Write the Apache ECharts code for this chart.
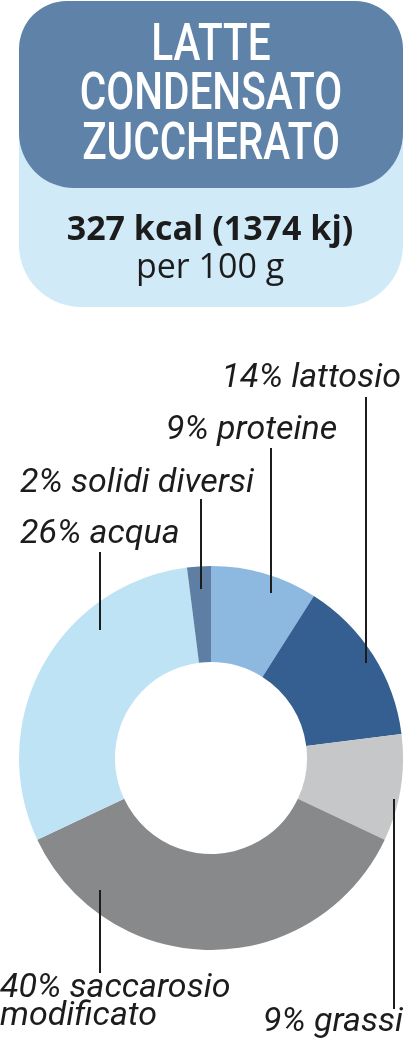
<!DOCTYPE html>
<html>
<head>
<meta charset="utf-8">
<script src="https://cdn.jsdelivr.net/npm/echarts@6/dist/echarts.min.js"></script>
<style>
html,body{margin:0;padding:0;background:#fff;}
#c{width:407px;height:1046px;}
</style>
</head>
<body>
<div id="c"></div>
<script>
// ---- data ----
const categories = ['proteine', 'lattosio', 'grassi', 'saccarosio modificato', 'acqua', 'solidi diversi'];
// slice sizes as drawn in the picture (percent of the ring)
const sliceValues = [9, 14, 9, 36, 30, 2];
// percentages printed in the labels
const labelPercents = [9, 14, 9, 40, 26, 2];
const labelNames = ['proteine', 'lattosio', 'grassi', 'saccarosio\nmodificato', 'acqua', 'solidi diversi'];
const titleLines = ['LATTE', 'CONDENSATO', 'ZUCCHERATO'];
const energyText = '327 kcal (1374 kj)';
const perText = 'per 100 g';

// ---- styling / layout ----
const colors = ['#8db8df', '#365f91', '#c6c7c9', '#88898b', '#bee3f5', '#5e7fa3'];
const labelFont = 'Roboto, "Noto Sans", sans-serif';
const titleFont = '500 52px Roboto, "Noto Sans", sans-serif';
// label placement: x, y (text center), align, line x, line top, line bottom
const labelLayoutCfg = [
  {x: 166, y: 430, align: 'left',  lx: 271, ly1: 448, ly2: 593},
  {x: 401, y: 378, align: 'right', lx: 366, ly1: 397, ly2: 663},
  {x: 403, y: 1022, align: 'right', lx: 394, ly1: 799, ly2: 1009},
  {x: 0,   y: 1002, align: 'left', lx: 100, ly1: 890, ly2: 973},
  {x: 20,  y: 534, align: 'left',  lx: 100, ly1: 552, ly2: 630},
  {x: 20,  y: 483, align: 'left',  lx: 201, ly1: 499, ly2: 589}
];

const chart = echarts.init(document.getElementById('c'), null, {renderer: 'canvas'});

const sliceData = categories.map((c, i) => ({
  name: c, value: sliceValues[i], itemStyle: {color: colors[i]}
}));
const labelData = categories.map((c, i) => ({
  name: c, value: sliceValues[i],
  label: {formatter: labelPercents[i] + '% ' + labelNames[i]}
}));

const titleText = (t, y) => ({
  type: 'text', x: 211, y: y, scaleX: 0.78,
  style: {text: t, font: titleFont, fill: '#ffffff', textAlign: 'center', textVerticalAlign: 'middle'}
});

const option = {
  animation: false,
  backgroundColor: '#ffffff',
  graphic: [
    {type: 'rect', shape: {x: 19, y: 1, width: 384, height: 306, r: [48, 48, 62, 62]}, style: {fill: '#d0eaf8'}},
    {type: 'rect', shape: {x: 19, y: 1, width: 384, height: 187, r: [48, 48, 55, 55]}, style: {fill: '#5f82a8'}},
    titleText(titleLines[0], 47),
    titleText(titleLines[1], 96),
    titleText(titleLines[2], 146),
    {type: 'text', x: 210, y: 230, style: {text: energyText, font: 'bold 34px "Open Sans", sans-serif', fill: '#1c1c1c', textAlign: 'center', textVerticalAlign: 'middle'}},
    {type: 'text', x: 210, y: 268, style: {text: perText, font: '34px "Open Sans", sans-serif', fill: '#1c1c1c', textAlign: 'center', textVerticalAlign: 'middle'}}
  ],
  series: [{
    type: 'pie',
    z: 2,
    center: [211, 758],
    radius: [96, 192],
    startAngle: 90,
    clockwise: true,
    silent: true,
    data: sliceData,
    label: {show: false},
    labelLine: {show: false}
  }, {
    type: 'pie',
    z: 5,
    center: [211, 758],
    radius: [96, 192],
    startAngle: 90,
    clockwise: true,
    silent: true,
    data: labelData,
    itemStyle: {color: 'rgba(0,0,0,0)'},
    label: {
      show: true,
      position: 'outside',
      color: '#1c1c1c',
      fontFamily: labelFont,
      fontStyle: 'italic',
      fontSize: 34,
      lineHeight: 28,
      overflow: 'none'
    },
    labelLine: {show: true, lineStyle: {color: '#1c1c1c', width: 2}},
    labelLayout: function (params) {
      const c = labelLayoutCfg[params.dataIndex];
      return {
        x: c.x, y: c.y, align: c.align, verticalAlign: 'middle',
        labelLinePoints: [[c.lx, c.ly2], [c.lx, c.ly1], [c.lx, c.ly1]]
      };
    }
  }]
};
chart.setOption(option);
</script>
</body>
</html>
